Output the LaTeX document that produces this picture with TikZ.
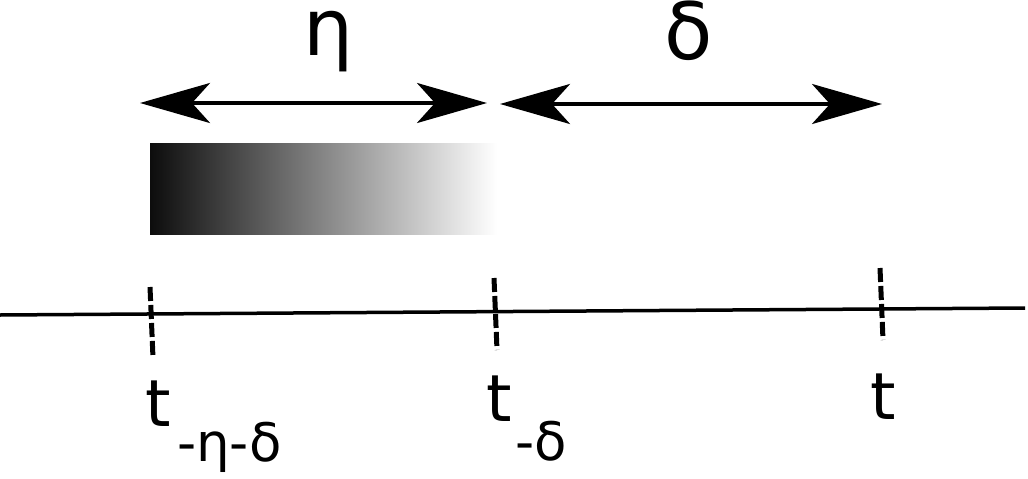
\documentclass[tikz,border=0pt]{standalone}
\usepackage{fontspec}
\setmainfont{DejaVu Sans}
\usetikzlibrary{arrows.meta}
\begin{document}
\begin{tikzpicture}[x=1pt,y=-1pt,
  axis/.style={line width=3.5pt},
  tickmark/.style={line width=5pt, dash pattern=on 14pt off 4pt},
  spanarrow/.style={line width=3.5pt,
    {Stealth[length=70pt,width=40pt,inset=18pt]}-{Stealth[length=70pt,width=40pt,inset=18pt]}},
  biglabel/.style={font=\fontsize{79}{79}\selectfont, inner sep=0pt, anchor=base},
  tlabel/.style={font=\fontsize{65}{65}\selectfont, inner sep=0pt, anchor=base west},
  sublabel/.style={font=\fontsize{53}{53}\selectfont, inner sep=0pt, anchor=base west}]
\useasboundingbox (0,0) rectangle (1028,479);
% time axis
\coordinate (L0) at (0,315);
\coordinate (L1) at (1025,308);
\draw[axis] (L0) -- (L1);
% ticks
\coordinate (A1) at (150,287); \coordinate (A2) at (153,358);
\coordinate (B1) at (494,278); \coordinate (B2) at (497,350);
\coordinate (C1) at (880,268); \coordinate (C2) at (883,340);
\draw[tickmark] (A1) -- (A2);
\draw[tickmark] (B1) -- (B2);
\draw[tickmark] (C1) -- (C2);
% gradient bar
\shade[left color=black!95, right color=white] (150,143) rectangle (497,234);
% span arrows
\coordinate (E1) at (140,103); \coordinate (E2) at (487,103);
\coordinate (D1) at (500,104); \coordinate (D2) at (882,104);
\draw[spanarrow] (E1) -- (E2);
\draw[spanarrow] (D1) -- (D2);
% labels
\node[biglabel] (eta) at (329,55) {η};
\node[biglabel] (delta) at (689,59) {δ};
\node[tlabel] (t1) at (145,426) {t};
\node[sublabel] (s1) at (177,461) {-η-δ};
\node[tlabel] (t2) at (486,421) {t};
\node[sublabel] (s2) at (515,460) {-δ};
\node[tlabel] (t3) at (870,419) {t};
\end{tikzpicture}
\end{document}
